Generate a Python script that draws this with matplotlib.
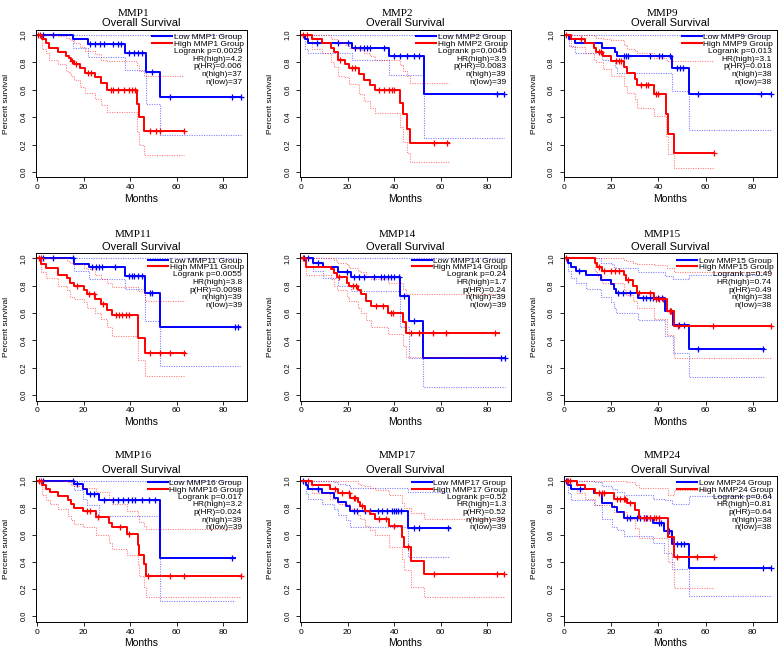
import numpy as np
import matplotlib
matplotlib.use("Agg")
import matplotlib.pyplot as plt
from matplotlib.lines import Line2D

# gene panels, in reading order
genes = ["MMP1", "MMP2", "MMP9", "MMP11", "MMP14", "MMP15", "MMP16", "MMP17", "MMP24"]
logrank_p = ["0.0029", "0.0045", "0.013", "0.0055", "0.24", "0.49", "0.017", "0.52", "0.64"]
hr_high = ["4.2", "3.9", "3.1", "3.8", "1.7", "0.74", "3.2", "1.3", "0.81"]
p_hr = ["0.006", "0.0083", "0.018", "0.0098", "0.24", "0.49", "0.024", "0.52", "0.64"]
n_high = [37, 39, 38, 39, 39, 38, 39, 39, 38]
n_low = [37, 39, 38, 39, 39, 38, 39, 39, 38]

# Kaplan-Meier:
# t = event times (months), s = survival after each event, lo/hi = 95% CI after each event,
# cens = censoring times, end = last follow-up
mmp1_low = dict(t=[15.5, 21.8, 37.8, 47.0, 53.0],
                s=[0.968, 0.932, 0.87, 0.727, 0.546],
                lo=[0.907, 0.84, 0.744, 0.493, 0.273],
                hi=[1.0, 1.0, 1.0, 1.0, 1.0],
                cens=[2.6, 6.9, 23.0, 24.9, 26.9, 28.7, 32.8, 34.8, 36.2, 39.5, 41.7, 43.4, 45.3,
                      49.6, 57.0, 83.6, 87.6],
                end=87.6)
mmp1_high = dict(t=[2.2, 3.7, 5.3, 8.9, 12.6, 13.6, 14.8, 15.8, 18.7, 20.8, 25.1, 27.3, 29.9, 42.8, 44.0, 46.0],
                 s=[0.968, 0.94, 0.907, 0.878, 0.846, 0.83, 0.81, 0.79, 0.756, 0.724, 0.69, 0.65, 0.598,
                    0.495, 0.4, 0.3],
                 lo=[0.9, 0.87, 0.82, 0.79, 0.74, 0.72, 0.70, 0.67, 0.62, 0.58, 0.53, 0.49, 0.44, 0.29, 0.2, 0.125],
                 hi=[1.0, 1.0, 1.0, 0.99, 0.98, 0.97, 0.96, 0.94, 0.91, 0.88, 0.86, 0.82, 0.81, 0.78, 0.74, 0.70],
                 cens=[0.4, 1.4, 15.2, 16.6, 21.9, 23.4, 31.6, 32.8, 34.8, 37.4, 39.5, 40.9, 42.0,
                       48.4, 51.3, 52.7, 63.2],
                 end=63.2)

mmp2_low = dict(t=[1.9, 3.0, 21.9, 37.7, 52.8],
                s=[0.97, 0.94, 0.907, 0.85, 0.566],
                lo=[0.9, 0.87, 0.82, 0.71, 0.25],
                hi=[1.0, 1.0, 1.0, 1.0, 1.0],
                cens=[6.9, 16.0, 20.0, 23.4, 25.5, 27.0, 28.4, 29.8, 35.6, 39.9, 42.4, 45.6, 48.5,
                      50.6, 84.0, 87.2],
                end=87.2)
mmp2_high = dict(t=[4.7, 9.0, 12.9, 14.3, 15.8, 19.0, 20.5, 25.1, 27.0, 29.8, 31.7, 42.7, 43.9, 45.6, 47.0],
                 s=[0.968, 0.94, 0.907, 0.878, 0.82, 0.788, 0.756, 0.715, 0.67, 0.634, 0.598, 0.507, 0.424,
                    0.317, 0.212],
                 lo=[0.9, 0.87, 0.8, 0.77, 0.7, 0.69, 0.64, 0.57, 0.52, 0.47, 0.43, 0.33, 0.22, 0.14, 0.07],
                 hi=[1.0, 1.0, 0.97, 0.97, 0.95, 0.93, 0.907, 0.89, 0.866, 0.85, 0.82, 0.78, 0.74, 0.70, 0.65],
                 cens=[1.1, 2.6, 16.7, 22.0, 23.4, 33.4, 35.6, 37.7, 39.0, 39.9, 57.0, 62.8],
                 end=63.5)

mmp9_low = dict(t=[2.1, 4.5, 16.0, 21.3, 22.3, 45.7, 52.8],
                s=[0.968, 0.94, 0.907, 0.878, 0.846, 0.76, 0.566],
                lo=[0.92, 0.87, 0.82, 0.77, 0.72, 0.59, 0.31],
                hi=[1.0, 1.0, 1.0, 1.0, 1.0, 1.0, 1.0],
                cens=[25.2, 26.0, 27.0, 36.2, 40.4, 41.4, 44.7, 48.0, 49.0, 50.4, 56.7, 83.7, 88.0],
                end=88.0)
mmp9_high = dict(t=[2.8, 8.9, 12.5, 13.5, 16.3, 19.9, 25.2, 26.7, 29.8, 30.9, 38.0, 43.0, 44.0, 46.8],
                 s=[0.968, 0.94, 0.907, 0.878, 0.846, 0.81, 0.77, 0.72, 0.68, 0.632, 0.57, 0.425, 0.28, 0.14],
                 lo=[0.91, 0.87, 0.82, 0.8, 0.75, 0.7, 0.63, 0.58, 0.53, 0.47, 0.41, 0.26, 0.13, 0.03],
                 hi=[1.0, 1.0, 0.99, 0.98, 0.97, 0.96, 0.93, 0.9, 0.88, 0.87, 0.83, 0.82, 0.81, 0.81],
                 cens=[0.7, 7.1, 14.6, 15.6, 22.0, 23.4, 24.1, 32.6, 34.8, 35.5, 39.0, 40.0, 63.8],
                 end=63.8)

mmp11_low = dict(t=[15.8, 22.5, 37.9, 46.3, 53.0],
                 s=[0.963, 0.934, 0.873, 0.75, 0.5],
                 lo=[0.91, 0.85, 0.78, 0.54, 0.21],
                 hi=[1.0, 1.0, 1.0, 1.0, 1.0],
                 cens=[2.6, 6.9, 15.3, 23.5, 25.4, 26.7, 27.8, 33.6, 39.6, 40.8, 41.8, 43.2, 45.3,
                       48.4, 49.4, 85.0, 86.5],
                 end=87.0)
mmp11_high = dict(t=[1.9, 4.0, 9.0, 12.7, 14.0, 15.9, 20.2, 21.3, 24.9, 27.4, 30.0, 32.1, 43.2, 46.5],
                  s=[0.963, 0.927, 0.88, 0.854, 0.824, 0.8, 0.768, 0.737, 0.7, 0.67, 0.62, 0.585, 0.415, 0.31],
                  lo=[0.9, 0.86, 0.8, 0.77, 0.72, 0.7, 0.68, 0.64, 0.6, 0.56, 0.5, 0.43, 0.26, 0.14],
                  hi=[1.0, 1.0, 1.0, 0.98, 0.97, 0.96, 0.93, 0.92, 0.88, 0.85, 0.82, 0.79, 0.76, 0.69],
                  cens=[0.9, 1.6, 17.0, 22.3, 24.5, 28.5, 33.9, 35.3, 36.7, 38.2, 39.6, 48.7, 52.7, 57.3, 63.0],
                  end=63.5)

mmp14_low = dict(t=[5.0, 9.3, 15.8, 21.5, 42.7, 46.6, 52.6],
                 s=[0.97, 0.94, 0.904, 0.867, 0.725, 0.54, 0.27],
                 lo=[0.91, 0.86, 0.8, 0.76, 0.5, 0.27, 0.06],
                 hi=[1.0, 1.0, 1.0, 1.0, 1.0, 1.0, 1.0],
                 cens=[1.4, 2.9, 7.2, 19.6, 22.9, 25.1, 27.2, 31.5, 34.4, 35.8, 37.3, 38.7, 40.1, 42.0,
                       44.4, 48.7, 86.0, 87.5],
                 end=87.5)
mmp14_high = dict(t=[2.2, 12.9, 14.3, 15.3, 19.6, 20.5, 24.7, 25.8, 28.0, 30.1, 37.3, 43.7, 45.2],
                  s=[0.94, 0.92, 0.897, 0.865, 0.823, 0.8, 0.767, 0.737, 0.688, 0.65, 0.6, 0.535, 0.455],
                  lo=[0.88, 0.85, 0.8, 0.77, 0.72, 0.69, 0.64, 0.6, 0.55, 0.5, 0.45, 0.36, 0.28],
                  hi=[1.0, 1.0, 0.99, 0.97, 0.95, 0.93, 0.91, 0.9, 0.87, 0.85, 0.82, 0.78, 0.74],
                  cens=[0.7, 16.4, 22.3, 23.7, 32.3, 35.1, 38.7, 39.4, 47.3, 50.9, 56.6, 62.4, 83.2],
                  end=85.0)

mmp15_low = dict(t=[1.4, 2.8, 5.0, 9.2, 15.6, 19.6, 21.0, 22.0, 31.5, 42.6, 46.1, 52.8],
                 s=[0.97, 0.94, 0.91, 0.877, 0.843, 0.81, 0.774, 0.745, 0.708, 0.615, 0.516, 0.34],
                 lo=[0.91, 0.86, 0.82, 0.78, 0.72, 0.68, 0.64, 0.6, 0.55, 0.43, 0.31, 0.135],
                 hi=[1.0, 1.0, 1.0, 1.0, 0.97, 0.96, 0.94, 0.93, 0.9, 0.87, 0.85, 0.88],
                 cens=[6.4, 22.7, 24.8, 27.7, 33.3, 34.8, 36.2, 37.6, 39.7, 41.4, 44.7, 48.9, 51.0, 56.7, 84.4],
                 end=85.0)
mmp15_high = dict(t=[12.8, 13.8, 15.9, 25.2, 26.2, 29.1, 30.9, 38.0, 43.7, 46.5],
                  s=[0.97, 0.94, 0.91, 0.877, 0.843, 0.8, 0.745, 0.7, 0.615, 0.504],
                  lo=[0.91, 0.87, 0.82, 0.77, 0.73, 0.69, 0.64, 0.56, 0.44, 0.27],
                  hi=[1.0, 1.0, 1.0, 0.99, 0.98, 0.97, 0.96, 0.95, 0.93, 0.9],
                  cens=[0.7, 14.6, 17.0, 19.9, 21.3, 23.4, 27.2, 31.9, 36.2, 39.0, 40.4, 41.8, 44.7, 45.4,
                        48.2, 63.1, 87.7],
                  end=88.0)

mmp16_low = dict(t=[15.8, 19.9, 21.6, 26.8, 53.0],
                 s=[0.975, 0.943, 0.906, 0.86, 0.43],
                 lo=[0.93, 0.87, 0.82, 0.74, 0.11],
                 hi=[1.0, 1.0, 1.0, 1.0, 1.0],
                 cens=[2.6, 15.3, 17.0, 22.7, 24.5, 28.8, 32.8, 35.0, 37.1, 39.3, 40.7, 42.2, 45.0, 48.2,
                       50.8, 83.9],
                 end=85.0)
mmp16_high = dict(t=[2.3, 4.0, 5.5, 9.0, 13.4, 14.8, 15.8, 19.9, 25.2, 31.1, 32.1, 38.6, 43.2, 44.0, 45.8, 46.9],
                  s=[0.968, 0.94, 0.92, 0.89, 0.86, 0.827, 0.8, 0.778, 0.736, 0.69, 0.66, 0.61, 0.53, 0.456,
                     0.383, 0.3],
                  lo=[0.9, 0.86, 0.83, 0.79, 0.74, 0.71, 0.68, 0.66, 0.6, 0.54, 0.5, 0.45, 0.38, 0.3, 0.22, 0.14],
                  hi=[1.0, 1.0, 1.0, 1.0, 0.99, 0.97, 0.96, 0.95, 0.92, 0.87, 0.83, 0.78, 0.74, 0.7, 0.67, 0.645],
                  cens=[0.9, 1.9, 21.6, 23.0, 26.3, 35.7, 39.7, 47.6, 57.3, 63.0, 87.5],
                  end=87.5)

mmp17_low = dict(t=[2.0, 3.2, 8.9, 14.0, 15.9, 19.3, 21.2, 46.1],
                 s=[0.97, 0.94, 0.91, 0.877, 0.848, 0.816, 0.78, 0.652],
                 lo=[0.91, 0.87, 0.83, 0.79, 0.75, 0.71, 0.66, 0.44],
                 hi=[1.0, 1.0, 1.0, 0.99, 0.98, 0.97, 0.95, 0.92],
                 cens=[1.0, 7.5, 22.6, 24.1, 27.7, 29.8, 33.1, 34.6, 37.0, 38.9, 39.9, 40.9, 41.8, 42.8,
                       48.6, 50.7, 63.0],
                 end=64.0)
mmp17_high = dict(t=[4.6, 12.5, 16.1, 21.2, 24.5, 25.5, 27.4, 29.8, 32.0, 38.0, 43.2, 44.2, 47.1, 52.9],
                  s=[0.97, 0.94, 0.91, 0.877, 0.848, 0.816, 0.78, 0.755, 0.718, 0.67, 0.583, 0.51, 0.412, 0.31],
                  lo=[0.91, 0.87, 0.83, 0.79, 0.75, 0.72, 0.67, 0.64, 0.6, 0.51, 0.42, 0.34, 0.22, 0.14],
                  hi=[1.0, 1.0, 1.0, 1.0, 0.98, 0.97, 0.96, 0.95, 0.93, 0.9, 0.84, 0.8, 0.76, 0.72],
                  cens=[2.9, 14.7, 17.6, 20.5, 22.6, 23.3, 26.2, 33.4, 36.6, 39.8, 46.1, 57.2, 84.1, 87.0],
                  end=87.0)

mmp24_low = dict(t=[1.7, 2.7, 12.7, 16.0, 20.2, 22.3, 25.2, 37.7, 42.3, 45.8, 53.0],
                 s=[0.97, 0.94, 0.91, 0.84, 0.805, 0.773, 0.73, 0.686, 0.632, 0.533, 0.36],
                 lo=[0.91, 0.86, 0.82, 0.72, 0.66, 0.64, 0.59, 0.54, 0.47, 0.35, 0.15],
                 hi=[1.0, 1.0, 0.99, 0.96, 0.94, 0.92, 0.9, 0.87, 0.86, 0.83, 0.89],
                 cens=[0.7, 6.7, 26.6, 28.0, 30.9, 32.0, 33.7, 34.9, 36.3, 40.1, 40.9, 44.4, 48.0, 49.7,
                       50.8, 84.3, 87.8],
                 end=87.8)
mmp24_high = dict(t=[5.3, 8.8, 13.1, 20.9, 26.6, 29.8, 31.9, 44.1, 46.5],
                  s=[0.97, 0.94, 0.91, 0.87, 0.834, 0.785, 0.73, 0.585, 0.44],
                  lo=[0.91, 0.87, 0.82, 0.77, 0.72, 0.65, 0.58, 0.4, 0.21],
                  hi=[1.0, 1.0, 1.0, 1.0, 0.99, 0.97, 0.95, 0.9, 0.93],
                  cens=[1.0, 1.7, 2.4, 14.5, 15.9, 16.9, 22.3, 23.8, 25.2, 25.9, 28.0, 33.7, 35.2, 36.6,
                        38.0, 39.1, 40.1, 48.0, 56.5, 63.6],
                  end=63.6)

low_groups = [mmp1_low, mmp2_low, mmp9_low, mmp11_low, mmp14_low, mmp15_low, mmp16_low, mmp17_low, mmp24_low]
high_groups = [mmp1_high, mmp2_high, mmp9_high, mmp11_high, mmp14_high, mmp15_high, mmp16_high,
               mmp17_high, mmp24_high]

SANS = "Liberation Sans"
SERIF = "Liberation Serif"

W, H = 778, 648
fig = plt.figure(figsize=(W / 100, H / 100), dpi=100)

# axes boxes in pixels
col_left = [36, 300, 563.5]
col_right = [247, 511, 776.5]
row_top = [29.5, 253, 475.6]
row_bot = [177.5, 400.5, 621.7]
gene_y = [14, 235, 455]


def km_steps(t, v, end):
    x = np.r_[0.0, t, end]
    y = np.r_[1.0, v, v[-1]]
    return x, y


def draw_group(ax, g, color):
    for key in ("lo", "hi"):
        x, y = km_steps(g["t"], g[key], g["end"])
        ax.step(x, y, where="post", color=color, alpha=0.5, lw=0.8, ls=(0, (1, 1.2)))
    x, y = km_steps(g["t"], g["s"], g["end"])
    ax.step(x, y, where="post", color=color, lw=1.4)
    idx = np.searchsorted(g["t"], g["cens"], side="right")
    yc = np.r_[1.0, g["s"]][idx]
    ax.plot(g["cens"], yc, ls="none", marker="+", ms=5, mew=0.9, color=color)


for i, gene in enumerate(genes):
    r, c = divmod(i, 3)
    l, rr, t, b = col_left[c], col_right[c], row_top[r], row_bot[r]
    wpx, hpx = rr - l, b - t
    ax = fig.add_axes([l / W, 1 - b / H, wpx / W, hpx / H])
    ax.set_xlim(-0.4, 90.2)
    ax.set_ylim(-0.04, 1.04)

    draw_group(ax, low_groups[i], "#0000ff")
    draw_group(ax, high_groups[i], "#ff0000")

    ax.set_xticks([0, 20, 40, 60, 80])
    ax.set_yticks([0.0, 0.2, 0.4, 0.6, 0.8, 1.0])
    ax.set_yticklabels(["0.0", "0.2", "0.4", "0.6", "0.8", "1.0"], rotation=90, va="center")
    ax.tick_params(axis="x", direction="out", length=3, width=0.6, labelsize=6, pad=2)
    ax.tick_params(axis="y", direction="out", length=3, width=0.6, labelsize=5.5, pad=3)
    for lab in ax.get_xticklabels() + ax.get_yticklabels():
        lab.set_fontfamily(SANS)
    for sp in ax.spines.values():
        sp.set_linewidth(0.7)

    ax.text(0.5, -21.5 / hpx, "Months", transform=ax.transAxes, ha="center", va="center",
            fontsize=7.5, family=SANS)
    ax.text(-29 / wpx, 0.5, "Percent survival", transform=ax.transAxes, ha="center", va="center",
            rotation=90, fontsize=6, family=SANS)
    ax.text(0.5, 1 + 6 / hpx, "Overall Survival", transform=ax.transAxes, ha="center", va="center",
            fontsize=8, family=SANS)
    fig.text((l + wpx / 2 - 8) / W, 1 - gene_y[r] / H, gene, ha="center", va="center",
             fontsize=8, family=SERIF)

    handles = [Line2D([], [], color="#0000ff", lw=1.5), Line2D([], [], color="#ff0000", lw=1.5)]
    ax.legend(handles, [f"Low {gene} Group", f"High {gene} Group"], loc="upper right",
              bbox_to_anchor=(0.985, 0.975), borderaxespad=0, borderpad=0, frameon=False,
              handlelength=2.4, handletextpad=0.2, labelspacing=-0.15,
              prop=dict(family=SANS, size=6))

    stats = [f"Logrank p={logrank_p[i]}", f"HR(high)={hr_high[i]}", f"p(HR)={p_hr[i]}",
             f"n(high)={n_high[i]}", f"n(low)={n_low[i]}"]
    for k, txt in enumerate(stats):
        ax.text(0.977, 0.851 - k * 0.052, txt, transform=ax.transAxes, ha="right", va="center",
                fontsize=6, family=SANS)

fig.savefig("out.png", dpi=100)
